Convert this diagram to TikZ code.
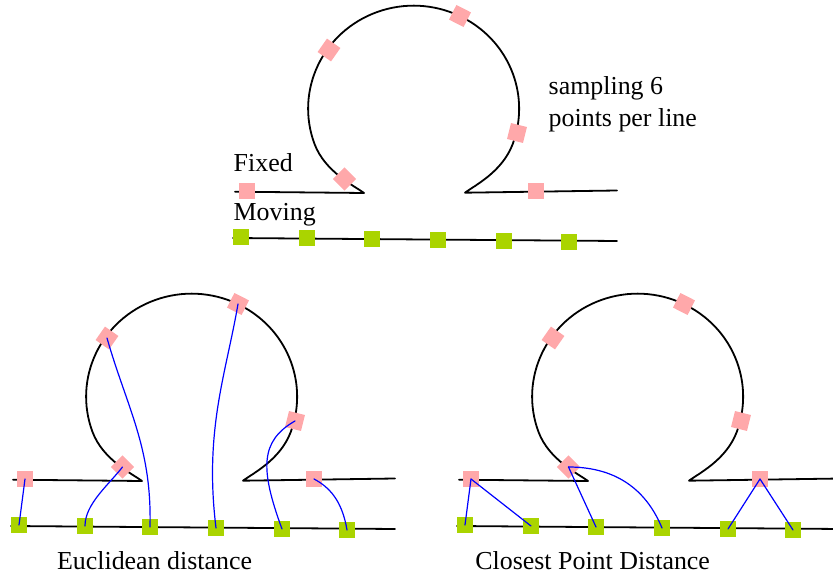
\documentclass[tikz,border=0pt]{standalone}
\usepackage{fontspec}
\setmainfont{Liberation Serif}
\definecolor{fixpink}{HTML}{FFA8AA}
\definecolor{movgreen}{HTML}{AAD400}
\tikzset{
  every picture/.style={line cap=round, line join=round},
  curveline/.style={line width=0.9bp},
  fixpt/.style={fill=fixpink, minimum size=8.2bp, inner sep=0pt},
  movpt/.style={fill=movgreen, minimum size=8.2bp, inner sep=0pt},
  link/.style={blue, line width=0.6bp},
  caption/.style={inner sep=0pt, anchor=base west, font=\fontsize{13}{15.8}\selectfont},
}

\begin{document}
\begin{tikzpicture}[x=0.5bp, y=-0.5bp]
  \useasboundingbox (0,0) rectangle (833,581);
  \clip (0,0) rectangle (833,581);
  % one pair of lines: the fixed one with its loop and the moving one, with samples
  \newcommand\curvepair[1]{%
    \draw[curveline] (235,191.7) -- (364,193) .. controls (354.4,185.8) and (325,172) .. (314.5,143.9)
      arc[start angle=-200, end angle=20, x radius=105.5, y radius=103]
      .. controls (502.2,172) and (474.6,185.5) .. (465,192.7) -- (617,190.5);
    \draw[curveline] (233,238) -- (617,241);
    \foreach \i/\x/\y/\r in {1/247/191/0, 2/344.5/179/45, 3/329/50/55, 4/460/16/63, 5/517/133/-14, 6/536/191/0}
      \node[fixpt, rotate=\r] (#1p\i) at (\x,\y) {};
    \foreach \i/\x/\y in {1/241/237, 2/307/238, 3/372/239, 4/438/240, 5/504/241, 6/569/242}
      \node[movpt] (#1g\i) at (\x,\y) {};
  }
  % ---- top: the two lines
  \curvepair{t}
  \node[caption] (fixedlbl) at (233.3,171.7) {Fixed};
  \node[caption] (movinglbl) at (233.3,221) {Moving};
  \node[caption, anchor=north west, align=left] (samplbl) at (548.3,76.5) {sampling 6\\points per line};
  % ---- bottom left: euclidean distance
  \begin{scope}[shift={(-222,288)}]
    \curvepair{e}
    \draw[link] (eg1.center) -- (ep1.center);
    \draw[link] (eg2.center) .. controls +(0,-22) and +(-14,18) .. (ep2.center);
    \draw[link] (eg3.center) .. controls +(2,-80) and +(20,70) .. (ep3.center);
    \draw[link] (eg4.center) .. controls +(-12,-98) and +(-12,70) .. (ep4.center);
    \draw[link] (eg5.center) .. controls +(-22,-60) and +(-35,20) .. (ep5.center);
    \draw[link] (eg6.center) .. controls +(-5,-30) and +(15,8) .. (ep6.center);
  \end{scope}
  \node[caption] (euclbl) at (56.7,569.3) {Euclidean distance};
  % ---- bottom right: closest point distance
  \begin{scope}[shift={(224,288)}]
    \curvepair{c}
    \draw[link] (cg1.center) -- (cp1.center);
    \draw[link] (cg2.center) -- (cp1.center);
    \draw[link] (cg3.center) -- (cp2.center);
    \draw[link] (cg4.center) .. controls +(-14,-34) and +(52,0) .. (cp2.center);
    \draw[link] (cg5.center) -- (cp6.center);
    \draw[link] (cg6.center) -- (cp6.center);
  \end{scope}
  \node[caption] (closlbl) at (475,569.3) {Closest Point Distance};
\end{tikzpicture}
\end{document}
